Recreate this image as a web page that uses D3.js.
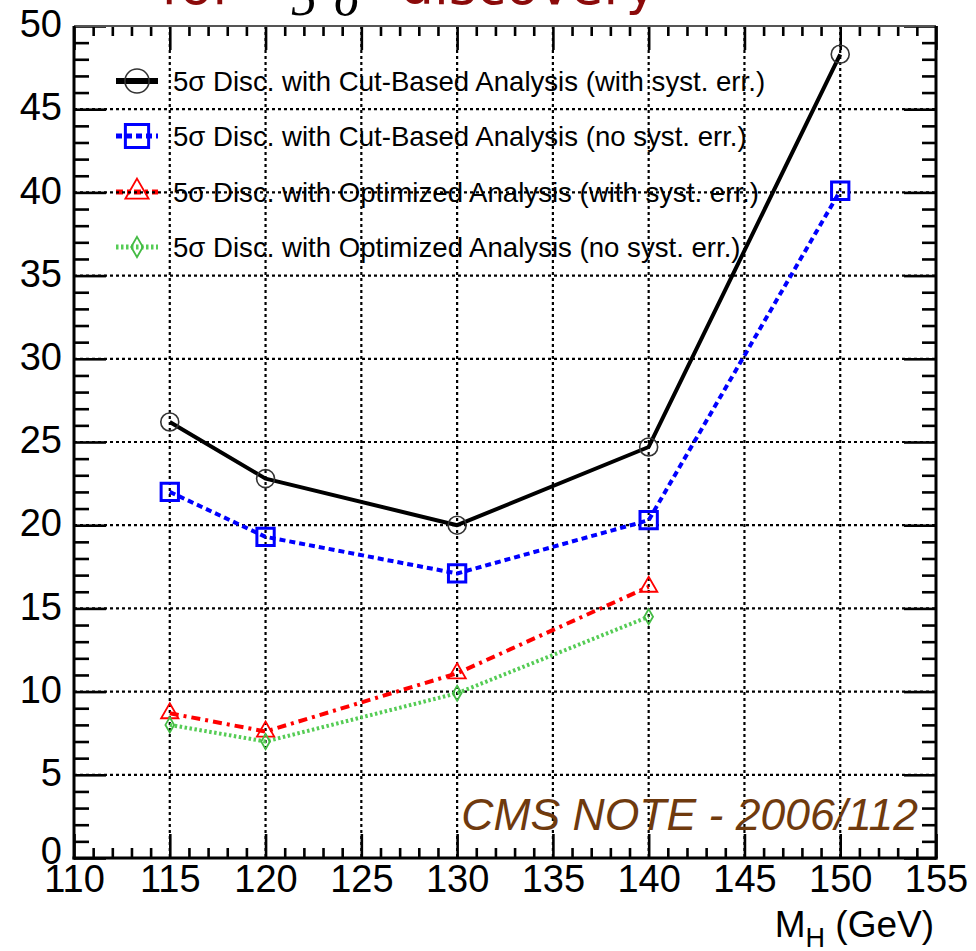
<!DOCTYPE html>
<html>
<head>
<meta charset="utf-8">
<script src="https://cdn.jsdelivr.net/npm/d3@7"></script>
<style>
  body { margin: 0; background: #fff; }
  svg { display: block; }
</style>
</head>
<body>
<svg id="chart" width="976" height="951"></svg>
<script>
// Higgs mass points (GeV) and required luminosity for a 5 sigma discovery
const massPoints = [115, 120, 130, 140, 150];
const cutBasedSyst = [26.2, 22.8, 20.0, 24.7, 48.3];
const cutBasedNoSyst = [22.0, 19.3, 17.1, 20.3, 40.1];
const optimizedSyst = [8.7, 7.6, 11.1, 16.3];
const optimizedNoSyst = [8.0, 7.0, 9.9, 14.5];

const xTickValues = [110, 115, 120, 125, 130, 135, 140, 145, 150, 155];
const yTickValues = [0, 5, 10, 15, 20, 25, 30, 35, 40, 45, 50];
const xMinorValues = d3.range(110, 156, 1).filter(v => v % 5 !== 0);
const yMinorValues = d3.range(0, 51, 1).filter(v => v % 5 !== 0);

const legendLabels = [
  "5\u03c3 Disc. with Cut-Based Analysis (with syst. err.)",
  "5\u03c3 Disc. with Cut-Based Analysis (no syst. err.)",
  "5\u03c3 Disc. with Optimized Analysis (with syst. err.)",
  "5\u03c3 Disc. with Optimized Analysis (no syst. err.)"
];
const xAxisTitle = "M";
const xAxisSub = "H";
const xAxisUnit = " (GeV)";
const noteText = "CMS NOTE - 2006/112";

const svg = d3.select("#chart");
const L = 74, R = 936, T = 26, B = 858;
const x = d3.scaleLinear().domain([110, 155]).range([L, R]);
const y = d3.scaleLinear().domain([0, 50]).range([B, T]);
const FONT = "'Liberation Sans', Arial, Helvetica, sans-serif";

// ---- heading (partly above the page edge)
const head = svg.append("g");
head.append("text").attr("x", 161).attr("y", 4)
  .attr("font-family", "'DejaVu Sans', sans-serif").attr("font-size", 53.5)
  .attr("fill", "#8b0a0a").text("for");
head.append("text").attr("x", 291).attr("y", 15)
  .attr("font-family", "'Liberation Serif', 'Times New Roman', serif").attr("font-style", "italic")
  .attr("font-size", 52).attr("fill", "#000").text("5");
head.append("text").attr("x", 334).attr("y", 15)
  .attr("font-family", "'Liberation Serif', 'Times New Roman', serif").attr("font-style", "italic")
  .attr("font-size", 52).attr("fill", "#000").text("\u03c3");
head.append("text").attr("x", 400).attr("y", 4)
  .attr("font-family", "'DejaVu Sans', sans-serif").attr("font-size", 53.5)
  .attr("fill", "#8b0a0a").text("discovery");

// ---- series definitions
const series = [
  { vals: cutBasedSyst, color: "#000", lw: 4, dash: null, marker: "circle",
    mStroke: "#333", mw: 1.6, legLw: 6, legDash: null },
  { vals: cutBasedNoSyst, color: "#0000ff", lw: 4, dash: "6,4", marker: "square",
    mStroke: "#0000ff", mw: 3, legLw: 5, legDash: "6,4" },
  { vals: optimizedSyst, color: "#ff0000", lw: 4, dash: "9,5,3,5", marker: "triangle",
    mStroke: "#ff0000", mw: 1.8, legLw: 5, legDash: "7,4,3,4" },
  { vals: optimizedNoSyst, color: "#55cc55", lw: 4, dash: "2.5,2.5", marker: "diamond",
    mStroke: "#44bb44", mw: 1.8, legLw: 5, legDash: "2.5,2.5" }
];

const symbolType = { circle: d3.symbolCircle, square: d3.symbolSquare,
                     triangle: d3.symbolTriangle, diamond: d3.symbolDiamond };
const symbolSize = { circle: 254, square: 300, triangle: 130, diamond: 66 };

// ---- legend (no box, behind the grid)
const legend = svg.append("g");
const legY = [81, 136, 192, 247];
series.forEach((s, i) => {
  const g = legend.append("g").attr("transform", `translate(0,${legY[i]})`);
  g.append("line").attr("x1", 116).attr("x2", 158).attr("y1", 0).attr("y2", 0)
    .attr("stroke", s.color).attr("stroke-width", s.legLw)
    .attr("stroke-dasharray", s.legDash);
  g.append("path")
    .attr("d", d3.symbol().type(symbolType[s.marker]).size(symbolSize[s.marker] * 1.8)())
    .attr("transform", "translate(137,0)")
    .attr("fill", "none").attr("stroke", s.mStroke).attr("stroke-width", s.mw);
  g.append("text").attr("x", 173).attr("y", 0).attr("dy", "0.35em")
    .attr("font-family", FONT).attr("font-size", 27.6).attr("fill", "#000")
    .text(legendLabels[i]);
});

// ---- grid
const grid = svg.append("g").attr("stroke", "#000").attr("stroke-width", 2.2)
  .attr("stroke-dasharray", "3,3");
xTickValues.filter(v => v > 110 && v < 155).forEach(v => {
  grid.append("line").attr("x1", x(v)).attr("x2", x(v)).attr("y1", T).attr("y2", B);
});
yTickValues.filter(v => v > 0 && v < 50).forEach(v => {
  grid.append("line").attr("x1", L).attr("x2", R).attr("y1", y(v)).attr("y2", y(v));
});

// ---- axes with inward ticks
function styleAxis(g) {
  g.select(".domain").remove();
  g.selectAll(".tick line").attr("stroke", "#000").attr("stroke-width", 2.6);
  g.selectAll(".tick text").attr("font-family", FONT).attr("font-size", 38).attr("fill", "#000");
}
svg.append("g").attr("transform", `translate(0,${B})`)
  .call(d3.axisBottom(x).tickValues(xTickValues).tickSizeInner(-24).tickSizeOuter(0)
    .tickPadding(7).tickFormat(d3.format("d")))
  .call(styleAxis);
svg.append("g").attr("transform", `translate(0,${B})`)
  .call(d3.axisBottom(x).tickValues(xMinorValues).tickSizeInner(-10).tickSizeOuter(0).tickFormat(""))
  .call(styleAxis);
svg.append("g").attr("transform", `translate(0,${T})`)
  .call(d3.axisTop(x).tickValues(xTickValues).tickSizeInner(-24).tickSizeOuter(0).tickFormat(""))
  .call(styleAxis);
svg.append("g").attr("transform", `translate(0,${T})`)
  .call(d3.axisTop(x).tickValues(xMinorValues).tickSizeInner(-10).tickSizeOuter(0).tickFormat(""))
  .call(styleAxis);
svg.append("g").attr("transform", `translate(${L},0)`)
  .call(d3.axisLeft(y).tickValues(yTickValues).tickSizeInner(-32).tickSizeOuter(0)
    .tickPadding(12).tickFormat(d3.format("d")))
  .call(styleAxis)
  .call(g => g.selectAll(".tick text").attr("dy", "0.28em"))
  // the origin label sits a little higher so it clears the x labels
  .call(g => g.selectAll(".tick text").filter(d => d === 0).attr("dy", "0.14em"));
svg.append("g").attr("transform", `translate(${L},0)`)
  .call(d3.axisLeft(y).tickValues(yMinorValues).tickSizeInner(-15).tickSizeOuter(0).tickFormat(""))
  .call(styleAxis);
svg.append("g").attr("transform", `translate(${R},0)`)
  .call(d3.axisRight(y).tickValues(yTickValues).tickSizeInner(-32).tickSizeOuter(0).tickFormat(""))
  .call(styleAxis);
svg.append("g").attr("transform", `translate(${R},0)`)
  .call(d3.axisRight(y).tickValues(yMinorValues).tickSizeInner(-14).tickSizeOuter(0).tickFormat(""))
  .call(styleAxis);

// ---- frame
svg.append("line").attr("x1", L).attr("x2", R).attr("y1", T).attr("y2", T)
  .attr("stroke", "#555").attr("stroke-width", 2);
svg.append("line").attr("x1", L).attr("x2", L).attr("y1", T).attr("y2", B + 1.5)
  .attr("stroke", "#000").attr("stroke-width", 3);
svg.append("line").attr("x1", R).attr("x2", R).attr("y1", T).attr("y2", B + 1.5)
  .attr("stroke", "#000").attr("stroke-width", 3);
svg.append("line").attr("x1", L - 1.5).attr("x2", R + 1.5).attr("y1", B).attr("y2", B)
  .attr("stroke", "#000").attr("stroke-width", 3);

// ---- series lines and markers
const line = d3.line().x((d, i) => x(massPoints[i])).y(d => y(d));
series.forEach(s => {
  svg.append("path").datum(s.vals).attr("d", line)
    .attr("fill", "none").attr("stroke", s.color).attr("stroke-width", s.lw)
    .attr("stroke-dasharray", s.dash).attr("stroke-linejoin", "round");
});
series.forEach(s => {
  svg.append("g").selectAll("path").data(s.vals).join("path")
    .attr("d", d3.symbol().type(symbolType[s.marker]).size(symbolSize[s.marker])())
    .attr("transform", (d, i) => `translate(${x(massPoints[i])},${y(d)})`)
    .attr("fill", "none").attr("stroke", s.mStroke).attr("stroke-width", s.mw);
});

// ---- note label
svg.append("text").attr("x", 918).attr("y", 830).attr("text-anchor", "end")
  .attr("font-family", FONT).attr("font-style", "italic").attr("font-size", 44.5)
  .attr("fill", "#6f3a0e").text(noteText);

// ---- x axis title
const xt = svg.append("text").attr("x", 934).attr("y", 937).attr("text-anchor", "end")
  .attr("font-family", FONT).attr("font-size", 37).attr("fill", "#000");
xt.append("tspan").text(xAxisTitle);
xt.append("tspan").attr("font-size", 27).attr("dy", 10).text(xAxisSub);
xt.append("tspan").attr("dy", -10).text(xAxisUnit);
</script>
</body>
</html>
